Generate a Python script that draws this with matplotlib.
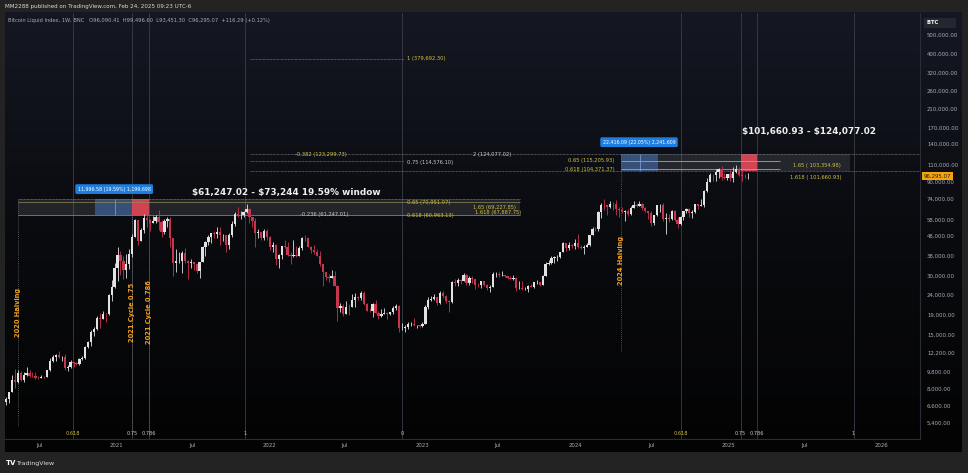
import numpy as np
import matplotlib
matplotlib.use("Agg")
import matplotlib.pyplot as plt
from matplotlib.patches import Rectangle
from matplotlib.colors import LinearSegmentedColormap
from matplotlib.transforms import blended_transform_factory

# Weekly candles (Bitcoin Liquid Index, BNC), (high, low, close) in thousands USD
first_week = "2020-04-06"
first_open = 6.77
w2020 = [(7.47, 6.77, 6.86), (7.29, 6.60, 7.12), (7.75, 6.83, 7.70), (9.46, 7.68, 8.90),
         (10.05, 8.12, 8.72), (9.94, 8.60, 9.68), (9.89, 8.82, 8.90), (9.74, 8.63, 9.45),
         (10.38, 9.30, 9.66), (9.96, 9.24, 9.33), (9.80, 9.20, 9.29), (9.76, 8.99, 9.09), (9.27, 8.94, 9.08),
         (9.44, 9.06, 9.22), (9.28, 9.10, 9.18), (9.98, 9.18, 9.93), (11.45, 9.85, 11.05),
         (11.90, 11.00, 11.69), (12.10, 11.10, 11.85), (12.48, 11.55, 11.65), (11.80, 11.14, 11.66), (12.07, 10.00, 10.28),
         (10.58, 9.88, 10.33), (11.18, 10.28, 10.92), (10.98, 10.37, 10.78), (10.95, 10.55, 10.67),
         (11.49, 10.53, 11.37), (11.72, 11.25, 11.50), (13.25, 11.36, 13.03), (14.07, 12.98, 13.78),
         (15.97, 13.20, 15.48), (16.48, 14.84, 16.05), (18.80, 15.90, 18.41), (19.42, 16.33, 18.20), (19.92, 18.10, 19.23),
         (19.42, 17.59, 19.10), (24.20, 19.01, 23.86), (28.42, 22.40, 26.28), (34.79, 25.98, 32.78)]
w2021 = [(41.95, 28.13, 38.15), (40.10, 30.40, 35.83), (37.85, 28.85, 32.26), (38.50, 29.24, 34.28),
         (40.96, 32.30, 38.85), (49.00, 37.40, 47.16), (58.35, 47.00, 57.54), (57.50, 43.00, 45.24),
         (52.60, 45.00, 51.20), (61.80, 49.30, 59.00), (61.10, 53.30, 57.30), (58.40, 50.40, 55.80), (60.00, 55.60, 57.10),
         (61.20, 55.50, 59.80), (64.90, 51.50, 56.20), (57.50, 47.00, 50.10), (58.50, 48.80, 56.60),
         (59.60, 53.00, 58.30), (59.50, 42.10, 46.40), (46.60, 30.00, 34.70), (40.80, 31.20, 35.70), (39.50, 34.70, 35.80),
         (39.90, 31.00, 39.10), (41.30, 34.80, 35.50), (36.00, 28.80, 34.70), (36.60, 32.70, 35.30),
         (35.10, 32.10, 34.30), (34.60, 31.10, 31.80), (35.40, 29.30, 35.40), (42.60, 35.20, 42.20),
         (45.30, 37.60, 44.60), (48.10, 43.00, 47.00), (49.30, 43.90, 49.30), (50.40, 46.50, 48.80), (52.90, 46.80, 49.90),
         (52.90, 42.80, 48.30), (48.80, 44.80, 48.30), (48.30, 39.60, 43.20), (49.20, 40.90, 48.20),
         (56.60, 47.10, 54.90), (62.90, 53.90, 61.50), (67.00, 59.60, 60.90), (63.70, 58.00, 61.30),
         (64.00, 59.40, 63.30), (69.00, 62.30, 65.50), (66.30, 55.60, 59.70), (59.30, 53.30, 57.20), (59.20, 42.00, 49.40),
         (51.90, 46.80, 50.10), (50.10, 45.50, 46.70), (51.80, 45.60, 50.80), (52.00, 45.70, 47.30)]
w2022 = [(47.50, 40.60, 41.80), (44.40, 39.70, 43.10), (43.50, 34.00, 36.30), (38.90, 32.90, 38.20), (42.50, 36.30, 42.40),
         (45.80, 41.70, 42.20), (44.70, 38.00, 38.40), (39.80, 34.30, 37.70), (45.40, 37.50, 38.40),
         (42.50, 37.20, 37.80), (42.30, 37.60, 41.30), (47.00, 40.50, 46.80), (48.20, 45.00, 46.40),
         (47.20, 42.10, 42.20), (42.40, 39.20, 40.40), (42.90, 38.60, 39.50), (40.80, 37.70, 37.70),
         (40.00, 33.70, 34.30), (34.40, 26.70, 31.30), (31.30, 28.70, 29.50), (30.60, 28.00, 29.40), (32.20, 29.30, 29.90),
         (31.60, 26.60, 26.60), (26.90, 17.60, 20.60), (21.80, 19.70, 21.00), (21.50, 18.80, 19.30),
         (22.40, 19.10, 20.90), (21.60, 18.90, 20.80), (24.20, 20.80, 22.60), (24.60, 20.80, 23.30),
         (23.70, 22.70, 23.20), (25.20, 22.70, 24.40), (25.10, 21.40, 21.60), (21.80, 19.90, 20.00), (20.60, 19.60, 19.80),
         (21.80, 18.60, 21.60), (22.70, 19.40, 19.40), (19.90, 18.20, 18.80), (20.30, 18.60, 19.30),
         (20.50, 19.20, 19.40), (19.60, 18.20, 19.10), (19.70, 18.90, 19.60), (21.00, 19.30, 20.60), (21.50, 20.10, 21.20),
         (21.40, 15.60, 16.30), (17.20, 16.00, 16.30), (16.90, 15.50, 16.50), (17.40, 16.10, 17.10),
         (17.40, 16.70, 17.10), (18.40, 16.60, 16.80), (16.90, 16.40, 16.80), (16.90, 16.50, 16.60)]
w2023 = [(17.40, 16.50, 17.10), (21.40, 17.10, 20.90), (23.30, 20.40, 22.70), (23.80, 22.30, 23.00), (24.20, 22.60, 23.30),
         (23.30, 21.40, 21.80), (25.20, 21.50, 24.60), (25.00, 23.10, 23.60), (23.90, 21.90, 22.40),
         (22.60, 19.60, 22.10), (28.40, 21.90, 28.00), (28.90, 26.60, 27.50), (29.20, 26.50, 28.50),
         (28.80, 27.30, 28.30), (30.90, 28.30, 30.30), (30.50, 27.10, 27.60), (30.00, 26.90, 29.20),
         (29.80, 27.70, 28.90), (28.90, 25.80, 26.90), (27.60, 26.30, 26.80), (28.40, 25.90, 28.10), (28.40, 26.50, 27.10),
         (27.40, 25.40, 25.90), (26.80, 24.80, 26.30), (31.40, 26.20, 30.50), (31.40, 29.60, 30.60),
         (31.40, 29.70, 30.20), (31.80, 29.90, 30.20), (30.30, 29.60, 29.80), (29.90, 29.00, 29.30), (30.00, 28.60, 29.00),
         (30.20, 28.70, 29.30), (29.50, 25.20, 26.10), (28.10, 25.80, 26.10), (28.20, 25.40, 25.80),
         (26.40, 25.40, 25.80), (26.90, 24.90, 26.50), (27.40, 26.30, 26.30), (28.00, 26.00, 27.90),
         (28.60, 27.20, 27.90), (27.90, 26.50, 26.90), (30.40, 26.80, 30.00), (35.20, 29.90, 34.50), (35.90, 33.90, 35.00),
         (37.90, 34.50, 37.10), (38.00, 34.80, 37.40), (38.40, 35.70, 37.50), (39.70, 37.10, 39.50),
         (44.70, 39.50, 43.80), (44.00, 40.20, 41.40), (44.40, 40.60, 43.00), (43.60, 41.50, 42.30)]
w2024 = [(45.90, 40.80, 43.90), (49.00, 41.70, 41.80), (43.20, 41.10, 41.60), (42.80, 38.50, 42.00), (43.90, 41.90, 43.00),
         (48.50, 42.60, 48.30), (52.80, 48.30, 52.10), (52.90, 50.60, 51.70), (64.00, 50.90, 63.10),
         (70.10, 59.20, 68.90), (73.80, 64.60, 68.40), (68.90, 60.80, 67.20), (71.60, 66.40, 69.60),
         (71.30, 64.60, 69.40), (72.80, 61.00, 65.70), (66.90, 59.70, 64.90), (67.20, 62.80, 63.10), (64.70, 56.60, 64.00),
         (65.50, 60.20, 61.50), (67.70, 60.80, 66.30), (71.90, 66.40, 68.50), (70.60, 66.70, 67.80),
         (72.00, 67.60, 69.60), (70.20, 65.00, 66.20), (66.90, 63.40, 64.30), (64.30, 58.50, 62.70),
         (63.80, 53.50, 55.90), (61.30, 54.30, 60.80), (68.40, 60.60, 68.20), (69.40, 63.50, 68.30), (70.00, 57.20, 58.10),
         (62.70, 49.10, 58.70), (61.80, 56.10, 58.40), (65.00, 57.80, 64.20), (64.90, 57.20, 57.30),
         (59.80, 52.60, 54.80), (60.60, 54.60, 59.90), (64.10, 57.60, 63.60), (66.50, 62.60, 65.60), (66.00, 59.90, 62.80),
         (64.50, 58.90, 62.90), (69.40, 62.50, 69.00), (69.50, 65.10, 68.00), (73.60, 67.50, 68.80),
         (81.50, 66.80, 80.40), (93.50, 80.20, 89.90), (99.60, 89.40, 97.90), (98.70, 90.80, 97.20),
         (103.90, 90.50, 101.20), (105.30, 94.20, 104.50), (108.30, 92.20, 95.20), (99.90, 92.60, 93.70), (98.90, 91.50, 98.30)]
w2025 = [(102.70, 91.20, 94.50), (106.40, 89.30, 101.30), (109.60, 99.50, 104.70), (106.50, 96.20, 97.70),
         (102.50, 91.20, 96.50), (98.80, 94.10, 96.09041), (99.4966, 93.4513, 96.29507)]

last_price = 96295.07
price_ticks = [500000, 400000, 320000, 260000, 210000, 170000, 140000, 110000, 90000, 74000,
               58000, 48000, 38000, 30000, 24000, 19000, 15000, 12200, 9800, 8000, 6600, 5400]
date_ticks = ["2020-07-01", "2021-01-01", "2021-07-01", "2022-01-01", "2022-07-01", "2023-01-01",
              "2023-07-01", "2024-01-01", "2024-07-01", "2025-01-01", "2025-07-01", "2026-01-01"]
date_labels = ["Jul", "2021", "Jul", "2022", "Jul", "2023", "Jul", "2024", "Jul", "2025", "Jul", "2026"]

# fib time zones (start, end) and their levels
time_zones = [("2018-11-23", "2021-11-05"), ("2022-11-14", "2025-10-27")]
time_levels = [0, 0.618, 0.75, 0.786, 1]

halvings = ["2020-05-11", "2024-04-20"]

UP = "#e2e2e2"
DOWN = "#c8354f"
YEL = "#cfc23c"
GRY = "#c9c9c9"
ORANGE = "#f0a020"


def yr(d):
    d = np.asarray(d, dtype="datetime64[D]")
    return 1970 + d.astype(float) / 365.2425


def box(x0, y0, x1, y1):
    return [x0 / 968, 1 - y1 / 473, (x1 - x0) / 968, (y1 - y0) / 473]


rows = np.array(w2020 + w2021 + w2022 + w2023 + w2024 + w2025) * 1000
hi, lo, cl = rows[:, 0], rows[:, 1], rows[:, 2]
op = np.concatenate([[first_open * 1000], cl[:-1]])
weeks = np.datetime64(first_week) + 7 * np.arange(len(cl))
x = yr(weeks)

fig = plt.figure(figsize=(9.68, 4.73), dpi=100)
fig.patch.set_facecolor("#232323")

bg = fig.add_axes(box(5, 12, 962, 452))
grad = np.linspace(0, 1, 256)[:, None]
bg.imshow(grad, aspect="auto", extent=[0, 1, 0, 1],
          cmap=LinearSegmentedColormap.from_list("bg", ["#151823", "#0a0b0f", "#030303"]))
bg.axis("off")

ax = fig.add_axes(box(5, 13, 920, 439))
ax.patch.set_alpha(0)
ax.set_yscale("log")
ax.set_ylim(4460, 646000)
ax.set_xlim(2020.2745, 2026.255)

# fib time zone lines and labels
tb = blended_transform_factory(ax.transData, ax.transAxes)
for t0, t1 in time_zones:
    a, b = yr(t0), yr(t1)
    for lv in time_levels:
        xv = a + lv * (b - a)
        if not (2020.28 < xv < 2026.2):
            continue
        ax.axvline(xv, color="#3a3e48", lw=0.6, zorder=1)
        ax.text(xv, 0.014, f"{lv:g}", transform=tb, ha="center", va="center",
                fontsize=3.6, color=YEL if lv == 0.618 else GRY)

z1a, z1b = yr(time_zones[0][0]), yr(time_zones[0][1])
z2a, z2b = yr(time_zones[1][0]), yr(time_zones[1][1])
c075, c0786 = z1a + 0.75 * (z1b - z1a), z1a + 0.786 * (z1b - z1a)
d075, d0786 = z2a + 0.75 * (z2b - z2a), z2a + 0.786 * (z2b - z2a)

# price window bands
ax.add_patch(Rectangle((yr(halvings[0]), 61247.02), yr("2023-08-22") - yr(halvings[0]),
                       73244 - 61247.02, fc="#787b86", alpha=0.22, lw=0, zorder=1))
ax.add_patch(Rectangle((yr(halvings[1]), 101660.93), yr("2025-10-19") - yr(halvings[1]),
                       124077.02 - 101660.93, fc="#787b86", alpha=0.22, lw=0, zorder=1))
ax.add_patch(Rectangle((yr("2020-11-11"), 61247.02), c075 - yr("2020-11-11"),
                       73244 - 61247.02, fc="#4f86d8", alpha=0.45, lw=0, zorder=2))
ax.add_patch(Rectangle((c075, 61247.02), c0786 - c075, 73244 - 61247.02,
                       fc="#f04a5a", alpha=0.85, lw=0, zorder=2))
ax.add_patch(Rectangle((yr(halvings[1]), 101660.93), yr("2024-07-17") - yr(halvings[1]),
                       124077.02 - 101660.93, fc="#4f86d8", alpha=0.45, lw=0, zorder=2))
ax.add_patch(Rectangle((d075, 101660.93), d0786 - d075, 124077.02 - 101660.93,
                       fc="#f04a5a", alpha=0.85, lw=0, zorder=2))
ax.vlines([yr("2020-12-29"), yr("2024-06-04")], [61247.02, 101660.93], [73244, 124077.02],
          color="#7fa5e0", lw=0.5, zorder=2)

# horizontal fib levels
ax.hlines([73244, 61247.02], yr(halvings[0]), yr("2023-08-22"), color="#8a8d96", lw=0.5, ls=(0, (1, 1)), zorder=2)
ax.hlines([70951.07, 60963.13], yr(halvings[0]), yr("2023-08-22"), color="#8f8a55", lw=0.5, zorder=2)
ax.hlines([379692.30, 114576.10], yr("2021-11-16"), yr("2022-11-20"), color="#8a8d96", lw=0.5, ls=(0, (1, 1)), zorder=2)
ax.hlines([124077.02, 101660.93], yr("2021-11-16"), 2026.255, color="#8a8d96", lw=0.5, ls=(0, (1, 1)), zorder=2)
ax.hlines([115205.93, 104371.37], yr(halvings[1]), yr("2025-05-05"), color="#b8ad45", lw=0.6, zorder=2)

# halving / cycle markers
ax.vlines(yr(halvings[0]), 5200, 73244, color="#6a6a6a", lw=0.6, ls=(0, (1, 1.5)), zorder=2)
ax.vlines(yr(halvings[1]), 12500, 124077, color="#6a6a6a", lw=0.6, ls=(0, (1, 1.5)), zorder=2)
ax.vlines([c075, c0786], 4600, 61247, color="#6a6a6a", lw=0.6, ls=(0, (1, 1.5)), zorder=2)
for xv, yv, s in [(yr(halvings[0]), 19600, "2020 Halving"), (c075, 19600, "2021 Cycle 0.75"),
                  (c0786, 19600, "2021 Cycle 0.786"), (yr(halvings[1]), 36000, "2024 Halving")]:
    ax.text(xv, yv, s, rotation=90, ha="center", va="center", fontsize=4.8,
            color=ORANGE, fontweight="bold", zorder=4)

# candles
bw = 0.78 * 7 / 365.2425
for m, col in [(cl >= op, UP), (cl < op, DOWN)]:
    ax.vlines(x[m], lo[m], hi[m], color=col, lw=0.6, zorder=3)
    ax.bar(x[m], np.abs(cl - op)[m], bottom=np.minimum(op, cl)[m], width=bw,
           color=col, lw=0, zorder=3)

# level labels
labels = [
    ("1 (379,692.30)", "2022-11-27", 379692.30, YEL, "left"),
    ("-0.382 (123,299.73)", "2022-03-04", 123299.73, YEL, "left"),
    ("2 (124,077.02)", "2023-05-02", 124077.02, GRY, "left"),
    ("0.75 (114,576.10)", "2022-11-27", 112800, GRY, "left"),
    ("0.65 (115,205.93)", "2024-04-05", 115205.93, YEL, "right"),
    ("0.618 (104,371.37)", "2024-04-05", 104371.37, YEL, "right"),
    ("1.65 ( 103,354.98)", "2025-06-05", 109000, YEL, "left"),
    ("1.618 ( 101,660.93)", "2025-05-28", 95000, YEL, "left"),
    ("0.65 (70,951.07)", "2022-11-27", 70951.07, YEL, "left"),
    ("0.618 (60,963.13)", "2022-11-27", 60963.13, YEL, "left"),
    ("-0.236 (61,247.01)", "2022-03-16", 61247.01, GRY, "left"),
    ("1.65 (69,227.85)", "2023-05-02", 66600, YEL, "left"),
    ("1.618 (67,887.75)", "2023-05-08", 62600, YEL, "left"),
]
for s, d, p, col, ha in labels:
    ax.text(yr(d), p, s, ha=ha, va="center", fontsize=3.7, color=col, zorder=5)

ax.text(yr("2021-07-01"), 79200, r"\$61,247.02 - \$73,244 19.59% window", ha="left", va="center",
        fontsize=6.4, color="#eeeeee", fontweight="bold", zorder=5)
ax.text(yr("2025-02-03"), 162500, r"\$101,660.93 - \$124,077.02", ha="left", va="center",
        fontsize=6.4, color="#eeeeee", fontweight="bold", zorder=5)
for s, d, p in [("11,996.58 (19.59%) 1,199,698", "2020-12-27", 82600),
                ("22,416.09 (22.05%) 2,241,609", "2024-06-02", 142900)]:
    ax.text(yr(d), p, s, ha="center", va="center", fontsize=3.4, color="white", zorder=6,
            bbox=dict(boxstyle="round,pad=0.5,rounding_size=0.3", fc="#1e7ee0", ec="none"))

# axes styling
ax.yaxis.tick_right()
ax.yaxis.set_major_locator(matplotlib.ticker.FixedLocator(price_ticks))
ax.yaxis.set_minor_locator(matplotlib.ticker.NullLocator())
ax.set_yticklabels([f"{v:,.2f}" for v in price_ticks])
ax.set_xticks(yr(date_ticks))
ax.set_xticklabels(date_labels)
ax.tick_params(axis="both", length=0, labelsize=3.9, colors="#a9acb5")
ax.tick_params(axis="y", pad=5)
ax.tick_params(axis="x", pad=3)
for side in ["top", "left"]:
    ax.spines[side].set_visible(False)
for side in ["right", "bottom"]:
    ax.spines[side].set_color("#2a2d36")
    ax.spines[side].set_linewidth(0.8)

pt = blended_transform_factory(ax.transAxes, ax.transData)
ax.text(1.004, last_price, "96,295.07", transform=pt, ha="left", va="center", fontsize=3.9,
        color="#1a1a1a", zorder=7, clip_on=False,
        bbox=dict(boxstyle="square,pad=0.35", fc="#f5a40f", ec="none"))

fig.text(927 / 968, 1 - 23 / 473, "BTC        ", fontsize=3.8, color="white", va="center",
         fontweight="bold", bbox=dict(boxstyle="square,pad=0.5", fc="#25272e", ec="none"))
fig.text(5 / 968, 1 - 6.5 / 473, "MM2288 published on TradingView.com, Feb 24, 2025 09:23 UTC-6",
         fontsize=4.1, color="#d8d8d8", va="center")
fig.text(8 / 968, 1 - 20.5 / 473,
         "Bitcoin Liquid Index, 1W, BNC   O96,090.41  H99,496.60  L93,451.30  C96,295.07  +116.29 (+0.12%)",
         fontsize=3.7, color="#a9acb5", va="center")
fig.text(6 / 968, 1 - 463 / 473, "TV", fontsize=5, color="white", fontweight="bold", va="center")
fig.text(17 / 968, 1 - 463 / 473, "TradingView", fontsize=4.5, color="#e0e0e0", va="center")

fig.savefig("out.png", dpi=100, facecolor=fig.get_facecolor())
